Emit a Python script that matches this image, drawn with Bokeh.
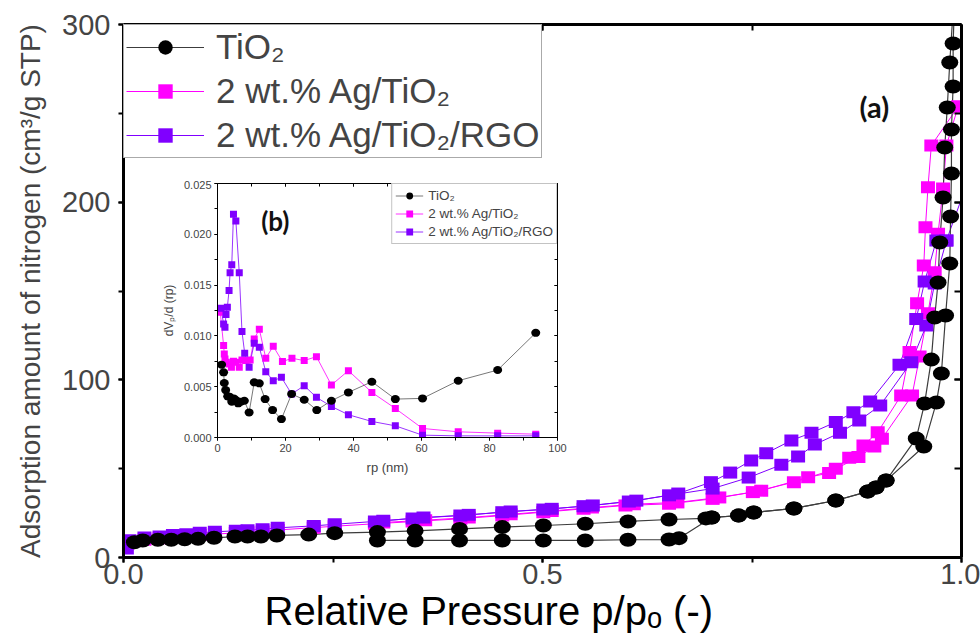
from bokeh.plotting import figure
from bokeh.models import (LinearAxis, SingleIntervalTicker, PrintfTickFormatter,
                          CustomJSTickFormatter, Legend, LegendItem, Range1d, Label, Title)
from bokeh.layouts import column
from bokeh.embed import file_html
from bokeh.resources import INLINE

# ---------------- main isotherm data (relative pressure, cm3/g STP) ----------------
tio2_ads_p = [0.013, 0.023, 0.041, 0.057, 0.073, 0.089, 0.108, 0.133, 0.148, 0.164, 0.183,
              0.221, 0.252, 0.303, 0.348, 0.401, 0.452, 0.501, 0.551, 0.602, 0.651, 0.695,
              0.702, 0.734, 0.752, 0.800, 0.850, 0.888, 0.898, 0.910, 0.955, 0.970, 0.976,
              0.981, 0.986, 0.987, 0.988, 0.988, 0.990, 0.990, 0.993]
tio2_ads_v = [8.6, 9.6, 10.0, 10.0, 10.3, 10.5, 11.1, 11.8, 11.8, 11.8, 12.4,
              12.9, 13.7, 14.3, 15.0, 16.1, 17.1, 18.0, 19.0, 20.3, 21.4, 22.0,
              22.5, 23.6, 25.3, 27.6, 32.1, 37.1, 39.4, 43.3, 62.5, 87.2, 103.6,
              136.2, 165.5, 191.9, 216.1, 240.9, 265.1, 289.3, 330.0]
tio2_des_p = [0.993, 0.986, 0.983, 0.980, 0.978, 0.974, 0.972, 0.968, 0.964, 0.956, 0.946,
              0.910, 0.898, 0.888, 0.850, 0.800, 0.752, 0.734, 0.702, 0.663, 0.651, 0.602,
              0.551, 0.501, 0.452, 0.401, 0.348, 0.303]
tio2_des_v = [330.0, 278.6, 253.3, 230.8, 202.6, 177.3, 154.8, 135.1, 111.4, 86.7, 67.0,
              43.3, 39.4, 37.1, 32.1, 27.6, 25.3, 23.6, 22.5, 10.9, 10.1, 10.0,
              9.6, 9.6, 9.6, 9.6, 9.6, 9.6]

ag_ads_p = [0.005, 0.025, 0.043, 0.059, 0.075, 0.091, 0.109, 0.134, 0.148, 0.166, 0.184,
            0.227, 0.252, 0.300, 0.345, 0.402, 0.452, 0.501, 0.549, 0.599, 0.651, 0.703,
            0.751, 0.800, 0.850, 0.877, 0.896, 0.905, 0.941, 0.950, 0.960, 0.968, 0.972,
            0.978, 0.982, 0.996]
ag_ads_v = [8.0, 10.0, 10.8, 11.5, 12.0, 12.6, 13.2, 13.8, 14.2, 14.7, 15.5,
            16.8, 17.6, 19.0, 20.2, 21.8, 23.6, 25.5, 27.4, 29.3, 30.2, 33.0,
            36.8, 42.4, 49.9, 56.5, 62.5, 66.8, 91.2, 113.1, 137.5, 160.6, 182.2,
            207.7, 231.9, 253.8]
ag_des_p = [0.996, 0.964, 0.960, 0.957, 0.955, 0.947, 0.938, 0.928, 0.900, 0.883, 0.866,
            0.842, 0.817, 0.761, 0.711, 0.661, 0.609, 0.559, 0.511, 0.462, 0.412, 0.360,
            0.310]
ag_des_v = [253.8, 231.9, 208.4, 185.9, 164.3, 143.1, 115.6, 91.2, 70.5, 63.0, 56.1,
            47.5, 45.2, 37.6, 33.8, 31.0, 30.0, 28.1, 26.2, 24.3, 22.5, 21.0,
            19.7]

rgo_ads_p = [0.004, 0.007, 0.025, 0.043, 0.059, 0.075, 0.091, 0.109, 0.134, 0.148, 0.166,
             0.184, 0.227, 0.252, 0.300, 0.345, 0.402, 0.452, 0.501, 0.549, 0.603, 0.651,
             0.703, 0.746, 0.785, 0.805, 0.825, 0.855, 0.878, 0.903, 0.940, 0.958, 0.968,
             0.982, 1.010]
rgo_ads_v = [5.0, 9.7, 11.3, 11.8, 12.6, 13.1, 13.9, 14.5, 15.0, 15.4, 15.9,
             16.7, 17.8, 18.7, 20.3, 22.0, 23.6, 25.5, 27.0, 28.9, 31.5, 35.0,
             38.8, 45.0, 52.2, 56.8, 63.6, 70.2, 77.1, 85.6, 109.9, 130.6, 154.2,
             178.4, 215.0]
rgo_des_p = [0.982, 0.970, 0.956, 0.946, 0.926, 0.891, 0.871, 0.850, 0.821, 0.797, 0.767,
             0.749, 0.724, 0.701, 0.662, 0.612, 0.560, 0.511, 0.462, 0.412, 0.358, 0.310]
rgo_des_v = [178.4, 178.4, 155.3, 134.3, 108.5, 87.8, 81.8, 76.2, 70.2, 65.9, 58.7,
             54.6, 47.8, 42.4, 36.0, 32.0, 29.3, 27.4, 25.9, 24.0, 22.5, 20.7]

# ---------------- inset pore size distribution (rp nm, dVp/d(rp)) ----------------
psd_tio2_r = [1.2, 1.8, 2.0, 2.4, 3.0, 3.6, 4.2, 4.8, 5.4, 6.1, 6.9, 7.9, 9.3, 10.8, 12.3,
              14.0, 16.2, 18.8, 21.8, 25.5, 29.2, 33.5, 38.5, 45.4, 52.3, 60.3, 70.8, 82.4, 93.6]
psd_tio2_v = [0.00717, 0.00641, 0.00536, 0.00467, 0.00405, 0.00400, 0.00352, 0.00385, 0.00368,
              0.00336, 0.00352, 0.00362, 0.00247, 0.00543, 0.00533, 0.00378, 0.00270, 0.00181,
              0.00428, 0.00372, 0.00270, 0.00362, 0.00444, 0.00549, 0.00378, 0.00385, 0.00559,
              0.00664, 0.01030]
psd_ag_r = [0.8, 1.8, 2.0, 2.2, 2.6, 3.4, 4.1, 4.7, 5.4, 6.4, 7.2, 8.3, 9.6, 10.8, 12.3, 14.2,
            16.4, 19.1, 21.9, 25.5, 29.1, 33.5, 38.5, 45.4, 52.3, 60.3, 70.8, 82.4, 93.6]
psd_ag_v = [0.01234, 0.00905, 0.00822, 0.00773, 0.00740, 0.00724, 0.00691, 0.00750, 0.00740,
            0.00691, 0.00763, 0.00757, 0.00763, 0.00970, 0.01066, 0.00780, 0.00898, 0.00747,
            0.00780, 0.00757, 0.00796, 0.00516, 0.00658, 0.00444, 0.00286, 0.00089, 0.00056,
            0.00043, 0.00033]
psd_rgo_r = [1.0, 1.8, 2.2, 2.5, 2.9, 3.4, 3.7, 4.2, 4.7, 5.4, 6.4, 7.2, 8.0, 9.3, 10.8, 12.3,
             14.2, 16.4, 18.8, 21.8, 25.5, 29.1, 33.5, 38.5, 45.4, 52.3, 60.3, 70.8, 82.4, 93.6]
psd_rgo_v = [0.01273, 0.01118, 0.01086, 0.01210, 0.01283, 0.01447, 0.01622, 0.01701, 0.02197,
             0.02132, 0.01622, 0.01043, 0.00829, 0.00691, 0.00928, 0.00888, 0.00648, 0.00559,
             0.00592, 0.00428, 0.00510, 0.00395, 0.00306, 0.00224, 0.00158, 0.00115, 0.00023,
             0.00016, 0.00016, 0.00016]

series_labels = ["TiO\u2082", "2 wt.% Ag/TiO\u2082", "2 wt.% Ag/TiO\u2082/RGO"]
x_title = "Relative Pressure p/p\u2092 (-)"
y_title = "Adsorption amount of nitrogen (cm\u00b3/g STP)"

BLACK = "#000000"
MAG = "#FF00FF"
PUR = "#8000FF"
BLACK_LINE = "#3c3c3c"
FONT = "Liberation Sans"
BLANK = CustomJSTickFormatter(code="return '';")


def style_axis(ax, lw, tick_in, tick_out, tw):
    ax.axis_line_width = lw
    ax.axis_line_color = "black"
    ax.major_tick_line_width = tw
    ax.minor_tick_line_width = tw
    ax.major_tick_line_color = "black"
    ax.minor_tick_line_color = "black"
    ax.major_tick_in = tick_in
    ax.major_tick_out = tick_out
    ax.minor_tick_in = tick_in
    ax.minor_tick_out = tick_out


# ---------------- main figure ----------------
BL, BR = 123, 19
p = figure(width=980, height=642, x_range=Range1d(0, 1.0), y_range=Range1d(0, 300),
           output_backend="svg", toolbar_location=None,
           min_border_left=BL, min_border_right=BR, min_border_top=24, min_border_bottom=85,
           background_fill_color="white", border_fill_color="white", outline_line_color=None)
p.grid.visible = False

xa = p.xaxis[0]
xa.ticker = SingleIntervalTicker(interval=0.5, num_minor_ticks=2)
xa.formatter = PrintfTickFormatter(format="%.1f")
style_axis(xa, 3, 0, 5, 2)
xa.major_label_text_font = FONT
xa.major_label_text_font_size = "29px"
xa.major_label_standoff = 1

ya = p.yaxis[0]
ya.ticker = SingleIntervalTicker(interval=100, num_minor_ticks=2)
style_axis(ya, 3, 0, 5, 2)
ya.major_label_text_font = FONT
ya.major_label_text_font_size = "29px"
ya.major_label_standoff = 8
ya.axis_label = y_title
ya.axis_label_text_font = FONT
ya.axis_label_text_font_size = "28px"
ya.axis_label_text_font_style = "normal"
ya.axis_label_standoff = 13

top_ax = LinearAxis(ticker=SingleIntervalTicker(interval=0.5, num_minor_ticks=2),
                    formatter=BLANK, major_label_standoff=0)
style_axis(top_ax, 3, 6, 0, 2)
p.add_layout(top_ax, "above")
right_ax = LinearAxis(ticker=SingleIntervalTicker(interval=100, num_minor_ticks=2),
                      formatter=BLANK, major_label_standoff=0)
style_axis(right_ax, 3, 7, 0, 2)
p.add_layout(right_ax, "right")

# x axis title: a title panel below the axis, placed a little left as in the picture
p.add_layout(Title(text=x_title, align="left", offset=141, standoff=0,
                   text_font=FONT, text_font_size="40px", text_font_style="normal",
                   text_color="black"), "below")

# lines
l_ag = p.line(ag_ads_p, ag_ads_v, line_color=MAG, line_width=1)
p.line(ag_des_p, ag_des_v, line_color=MAG, line_width=1)
l_rgo = p.line(rgo_ads_p, rgo_ads_v, line_color=PUR, line_width=1)
p.line(rgo_des_p, rgo_des_v, line_color=PUR, line_width=1)
l_tio2 = p.line(tio2_ads_p, tio2_ads_v, line_color=BLACK_LINE, line_width=1.2)
p.line(tio2_des_p, tio2_des_v, line_color=BLACK_LINE, line_width=1.2)

# markers (slightly oval, as in the picture)
for xs, ys in ((ag_ads_p, ag_ads_v), (ag_des_p, ag_des_v)):
    p.rect(xs, ys, width=14, height=12, width_units="screen", height_units="screen",
           fill_color=MAG, line_color=None)
for xs, ys in ((rgo_ads_p, rgo_ads_v), (rgo_des_p, rgo_des_v)):
    p.rect(xs, ys, width=14, height=12, width_units="screen", height_units="screen",
           fill_color=PUR, line_color=None)
for xs, ys in ((tio2_ads_p, tio2_ads_v), (tio2_des_p, tio2_des_v)):
    p.ellipse(xs, ys, width=17, height=14, width_units="screen", height_units="screen",
              fill_color=BLACK, line_color=None)

# legend marker renderers (hidden; used only for legend glyphs)
m_tio2 = p.scatter(tio2_ads_p, tio2_ads_v, marker="circle", size=14, fill_color=BLACK,
                   line_color=None, visible=False)
m_ag = p.scatter(ag_ads_p, ag_ads_v, marker="square", size=12, fill_color=MAG,
                 line_color=None, visible=False)
m_rgo = p.scatter(rgo_ads_p, rgo_ads_v, marker="square", size=12, fill_color=PUR,
                  line_color=None, visible=False)

leg = Legend(items=[LegendItem(label=series_labels[0], renderers=[l_tio2, m_tio2]),
                    LegendItem(label=series_labels[1], renderers=[l_ag, m_ag]),
                    LegendItem(label=series_labels[2], renderers=[l_rgo, m_rgo])],
             location="top_left", margin=0, padding=2, spacing=4,
             glyph_width=78, glyph_height=36, label_standoff=12,
             label_text_font=FONT, label_text_font_size="35px",
             border_line_color="#555555", border_line_width=1,
             background_fill_color="white", background_fill_alpha=1.0)
p.add_layout(leg)

p.add_layout(Label(x=0.896, y=254, text="(a)", text_font="Lato", text_font_style="bold",
                   text_font_size="29px", text_align="center", text_baseline="middle",
                   text_color="#111111"))

# ---------------- inset figure ----------------
# (a Bokeh column aligns the side borders of its plots, so the inset uses the same ones)
IT, IB = 3, 42
inset = figure(width=BL + 340 + BR, height=IT + 254 + IB,
               x_range=Range1d(0, 100), y_range=Range1d(0, 0.025),
               output_backend="svg", toolbar_location=None,
               min_border_left=BL, min_border_right=BR, min_border_top=IT, min_border_bottom=IB,
               background_fill_color="white", border_fill_alpha=0.0, outline_line_color=None)
inset.grid.visible = False
ix = inset.xaxis[0]
ix.ticker = SingleIntervalTicker(interval=20, num_minor_ticks=2)
style_axis(ix, 1, 0, 3, 1)
ix.major_label_text_font = FONT
ix.major_label_text_font_size = "11px"
ix.major_label_standoff = 3
ix.axis_label = "rp (nm)"
ix.axis_label_text_font = FONT
ix.axis_label_text_font_size = "13px"
ix.axis_label_text_font_style = "normal"
ix.axis_label_standoff = 5

iy = inset.yaxis[0]
iy.ticker = SingleIntervalTicker(interval=0.005, num_minor_ticks=2)
iy.formatter = PrintfTickFormatter(format="%.3f")
style_axis(iy, 1, 0, 3, 1)
iy.major_label_text_font = FONT
iy.major_label_text_font_size = "11px"
iy.major_label_standoff = 3
iy.axis_label = "dV\u209a/d (rp)"
iy.axis_label_text_font = FONT
iy.axis_label_text_font_size = "12px"
iy.axis_label_text_font_style = "normal"
iy.axis_label_standoff = 5

itop = LinearAxis(ticker=SingleIntervalTicker(interval=20, num_minor_ticks=2),
                  formatter=BLANK, major_label_standoff=0)
style_axis(itop, 1, 3, 0, 1)
inset.add_layout(itop, "above")
iright = LinearAxis(ticker=SingleIntervalTicker(interval=0.005, num_minor_ticks=2),
                    formatter=BLANK, major_label_standoff=0)
style_axis(iright, 1, 3, 0, 1)
inset.add_layout(iright, "right")

il_ag = inset.line(psd_ag_r, psd_ag_v, line_color=MAG, line_width=0.8)
il_rgo = inset.line(psd_rgo_r, psd_rgo_v, line_color=PUR, line_width=0.8)
il_tio2 = inset.line(psd_tio2_r, psd_tio2_v, line_color="#555555", line_width=0.8)
inset.rect(psd_ag_r, psd_ag_v, width=7, height=7, width_units="screen", height_units="screen",
           fill_color=MAG, line_color=None)
inset.rect(psd_rgo_r, psd_rgo_v, width=7, height=7, width_units="screen", height_units="screen",
           fill_color=PUR, line_color=None)
inset.ellipse(psd_tio2_r, psd_tio2_v, width=9, height=8, width_units="screen",
              height_units="screen", fill_color=BLACK, line_color=None)
im_tio2 = inset.scatter(psd_tio2_r, psd_tio2_v, marker="circle", size=7, fill_color=BLACK,
                        line_color=None, visible=False)
im_ag = inset.scatter(psd_ag_r, psd_ag_v, marker="square", size=7, fill_color=MAG,
                      line_color=None, visible=False)
im_rgo = inset.scatter(psd_rgo_r, psd_rgo_v, marker="square", size=7, fill_color=PUR,
                       line_color=None, visible=False)
ileg = Legend(items=[LegendItem(label=series_labels[0], renderers=[il_tio2, im_tio2]),
                     LegendItem(label=series_labels[1], renderers=[il_ag, im_ag]),
                     LegendItem(label=series_labels[2], renderers=[il_rgo, im_rgo])],
              location="top_right", margin=0, padding=3, spacing=1,
              glyph_width=28, glyph_height=17, label_standoff=5,
              label_text_font=FONT, label_text_font_size="13.5px",
              border_line_color="#888888", border_line_width=1,
              background_fill_color="white", background_fill_alpha=1.0)
inset.add_layout(ileg)
inset.add_layout(Label(x=17, y=0.0213, text="(b)", text_font="Lato", text_font_style="bold",
                       text_font_size="26px", text_align="center", text_baseline="middle",
                       text_color="#111111"))

INSET_LEFT = 217 - BL
INSET_TOP = 183 - IT
inset.margin = (INSET_TOP - 642, 0, 0, INSET_LEFT)

page = column(p, inset)
open("out.html", "w").write(file_html(page, INLINE))
